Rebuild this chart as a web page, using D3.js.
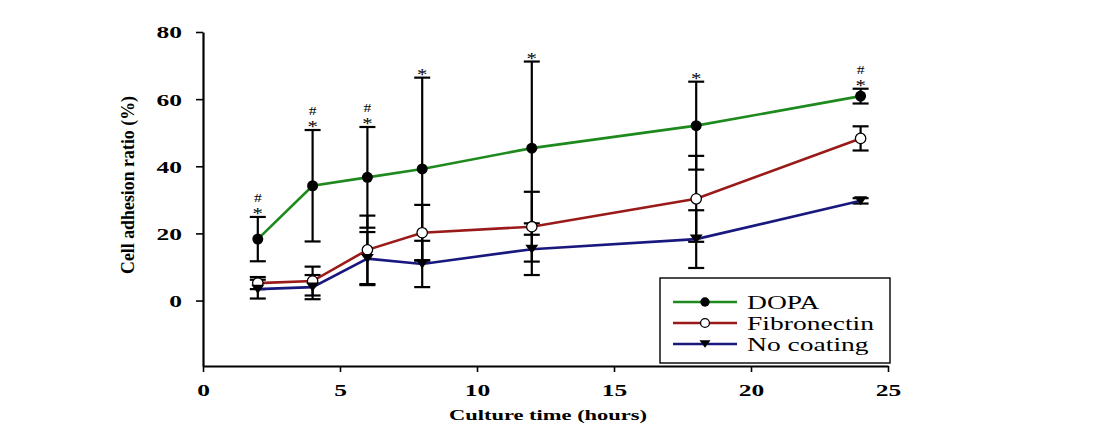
<!DOCTYPE html>
<html><head><meta charset="utf-8">
<script src="https://cdn.jsdelivr.net/npm/d3@7"></script>
<style>body{margin:0;background:#fff;}svg{display:block;}</style>
</head><body>
<svg id="c" width="1111" height="443"></svg>
<script>
const times = [2, 4, 6, 8, 12, 18, 24];
const dopa = [18.3, 34.2, 36.7, 39.2, 45.4, 52.1, 60.9];
const dopaErr = [6.6, 16.6, 15.0, 27.2, 25.8, 13.1, 2.2];
const fib = [5.2, 5.8, 15.1, 20.2, 22.0, 30.3, 48.3];
const fibErr = [1.8, 4.3, 10.2, 8.3, 10.4, 12.8, 3.6];
const noCoat = [3.4, 4.0, 12.5, 10.9, 15.3, 18.3, 29.7];
const noCoatErr = [2.8, 3.6, 7.9, 6.9, 7.7, 8.6, 0.8];
const sigMarks = ["#*", "#*", "#*", "*", "*", "*", "#*"];
const xTicks = [0, 5, 10, 15, 20, 25];
const yTicks = [0, 20, 40, 60, 80];
const seriesNames = ["DOPA", "Fibronectin", "No coating"];

const series = [
  {name: seriesNames[0], vals: dopa, err: dopaErr, color: "#1e8a1e", marker: "filled"},
  {name: seriesNames[1], vals: fib, err: fibErr, color: "#9a1a1a", marker: "open"},
  {name: seriesNames[2], vals: noCoat, err: noCoatErr, color: "#18187e", marker: "tri"}
];

const svg = d3.select("#c");
const x = d3.scaleLinear().domain([0, 25]).range([203, 888]);
const y = d3.scaleLinear().domain([-19.5, 80]).range([366, 32]);
const serif = "'Liberation Serif','Times New Roman',serif";
const SX = 1.5; // horizontal stretch of the original picture's text

// axes
const xa = svg.append("g").attr("transform", "translate(0,366)")
  .call(d3.axisBottom(x).tickValues(xTicks).tickSize(6).tickSizeOuter(0).tickPadding(12));
const ya = svg.append("g").attr("transform", "translate(203,0)")
  .call(d3.axisLeft(y).tickValues(yTicks).tickSize(7).tickSizeOuter(0).tickPadding(14));
[xa, ya].forEach(g => {
  g.select(".domain").attr("stroke", "#000").attr("stroke-width", 2.2);
  g.selectAll(".tick line").attr("stroke", "#000").attr("stroke-width", 1.6);
  g.selectAll(".tick text").attr("fill", "#000").attr("font-family", serif)
    .attr("font-weight", "bold").attr("font-size", 17);
});
xa.selectAll(".tick text").attr("transform", `scale(${SX},1)`);
ya.selectAll(".tick text").attr("dy", "0.35em").attr("x", -21 / SX)
  .attr("transform", `scale(${SX},1)`);

svg.append("text").attr("transform", `translate(548,420) scale(${SX},1)`)
  .attr("text-anchor", "middle")
  .attr("font-family", serif).attr("font-weight", "bold").attr("font-size", 15)
  .text("Culture time (hours)");
svg.append("text").attr("transform", "translate(134,185) rotate(-90)")
  .attr("text-anchor", "middle").attr("font-family", serif).attr("font-weight", "bold")
  .attr("font-size", 18).attr("textLength", 178).attr("lengthAdjust", "spacingAndGlyphs")
  .text("Cell adhesion ratio (%)");

// error bars
const capW = 8;
series.forEach(s => {
  const g = svg.append("g").attr("stroke", "#000").attr("stroke-width", 2.2);
  times.forEach((t, i) => {
    const cx = x(t), y1 = y(s.vals[i] + s.err[i]), y0 = y(s.vals[i] - s.err[i]);
    g.append("line").attr("x1", cx).attr("x2", cx).attr("y1", y1).attr("y2", y0);
    g.append("line").attr("x1", cx - capW).attr("x2", cx + capW).attr("y1", y1).attr("y2", y1);
    g.append("line").attr("x1", cx - capW).attr("x2", cx + capW).attr("y1", y0).attr("y2", y0);
  });
});

// lines
const line = d3.line().x((d, i) => x(times[i])).y(d => y(d));
series.forEach(s => {
  svg.append("path").attr("d", line(s.vals)).attr("fill", "none")
    .attr("stroke", s.color).attr("stroke-width", 2.6);
});

function drawMarker(g, type, cx, cy, scale) {
  if (type === "filled") {
    g.append("circle").attr("cx", cx).attr("cy", cy).attr("r", 5.5 * scale).attr("fill", "#000");
  } else if (type === "open") {
    g.append("circle").attr("cx", cx).attr("cy", cy).attr("r", 5.2 * scale)
      .attr("fill", "#fff").attr("stroke", "#000").attr("stroke-width", 1.3);
  } else {
    const w = 6.5 * scale, h = 9 * scale;
    g.append("path").attr("d", `M${cx - w},${cy - h / 2}L${cx + w},${cy - h / 2}L${cx},${cy + h / 2}Z`)
      .attr("fill", "#000");
  }
}
series.forEach(s => {
  const g = svg.append("g");
  times.forEach((t, i) => drawMarker(g, s.marker, x(t), y(s.vals[i]), 1));
});

// significance marks above DOPA bars
times.forEach((t, i) => {
  const top = y(dopa[i] + dopaErr[i]);
  const m = sigMarks[i];
  svg.append("text").attr("transform", `translate(${x(t)},${top + 2}) scale(1.3,1)`)
    .attr("text-anchor", "middle")
    .attr("font-family", serif).attr("font-size", 16).text("*");
  if (m.includes("#")) {
    svg.append("text").attr("transform", `translate(${x(t)},${top - 15}) scale(1.3,1)`)
      .attr("text-anchor", "middle")
      .attr("font-family", serif).attr("font-size", 12).text("#");
  }
});

// legend
const lg = svg.append("g");
lg.append("rect").attr("x", 660).attr("y", 278).attr("width", 230).attr("height", 85)
  .attr("fill", "#fff").attr("stroke", "#000").attr("stroke-width", 1.4);
series.forEach((s, i) => {
  const ly = 302 + i * 21;
  lg.append("line").attr("x1", 673).attr("x2", 737).attr("y1", ly).attr("y2", ly)
    .attr("stroke", s.color).attr("stroke-width", 2.4);
  drawMarker(lg, s.marker, 705, ly, 0.85);
  lg.append("text").attr("transform", `translate(747,${ly}) scale(1.45,1)`).attr("dy", "0.35em")
    .attr("font-family", serif).attr("font-size", 19).text(s.name);
});
</script>
</body></html>
